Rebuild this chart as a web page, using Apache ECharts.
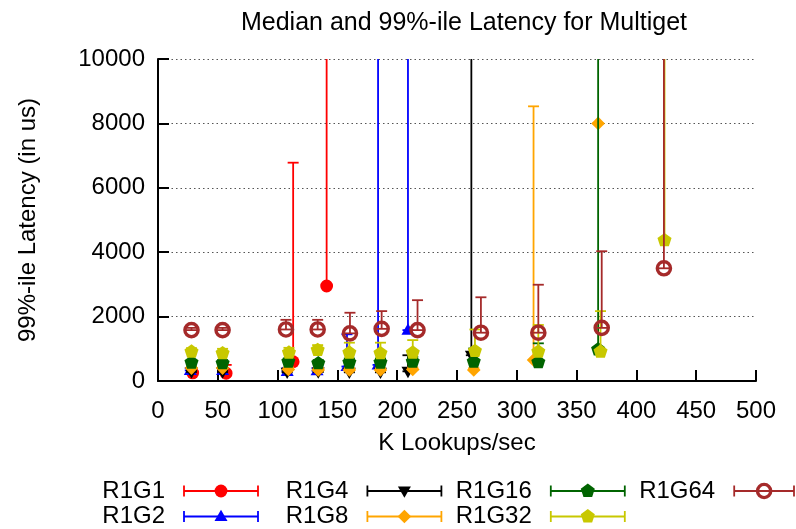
<!DOCTYPE html>
<html>
<head>
<meta charset="utf-8">
<title>Median and 99%-ile Latency for Multiget</title>
<script src="https://cdn.jsdelivr.net/npm/echarts@6/dist/echarts.min.js"></script>
<style>
  html, body { margin: 0; padding: 0; background: #ffffff; }
  #chart { width: 796px; height: 529px; }
</style>
</head>
<body>
<div id="chart"></div>
<script>
// Throughput (K lookups/sec), median latency and 99th-percentile latency (us)
// for each multiget configuration. 99th values above the axis range are
// drawn clipped at the top of the plot.
const seriesNames = ['R1G1', 'R1G2', 'R1G4', 'R1G8', 'R1G16', 'R1G32', 'R1G64'];

const r1g1X      = [29, 57, 113, 141];
const r1g1Median = [250, 240, 600, 2950];
const r1g1P99    = [300, 500, 6780, 15000];

const r1g2X      = [27, 54, 108, 133, 158, 184, 209];
const r1g2Median = [330, 330, 300, 320, 450, 500, 1580];
const r1g2P99    = [400, 400, 400, 400, 1450, 15000, 15000];

const r1g4X      = [28, 54, 108, 134, 160, 186, 209, 262];
const r1g4Median = [280, 280, 270, 280, 270, 270, 300, 800];
const r1g4P99    = [330, 330, 330, 330, 330, 330, 800, 15000];

const r1g8X      = [28, 54, 109, 134, 160, 186, 213, 264, 314, 368];
const r1g8Median = [400, 400, 360, 340, 340, 340, 360, 340, 650, 8000];
const r1g8P99    = [450, 450, 420, 400, 400, 400, 420, 400, 8530, 8000];

const r1g16X      = [28, 54, 109, 134, 160, 186, 213, 264, 318, 368];
const r1g16Median = [570, 550, 600, 550, 570, 570, 600, 600, 580, 980];
const r1g16P99    = [650, 650, 700, 650, 700, 700, 750, 1010, 1170, 15000];

const r1g32X      = [28, 54, 109.5, 133.5, 160, 186, 213, 265, 318, 370, 423.5];
const r1g32Median = [910, 860, 880, 960, 880, 860, 880, 930, 910, 910, 4370];
const r1g32P99    = [1020, 1000, 1030, 1115, 1190, 1190, 1270, 1600, 1740, 2170, 15000];

const r1g64X      = [28, 54, 107, 133.5, 160.5, 187, 217, 270, 318, 371, 423];
const r1g64Median = [1580, 1580, 1600, 1600, 1480, 1620, 1580, 1500, 1500, 1650, 3500];
const r1g64P99    = [1650, 1650, 1900, 1900, 2120, 2170, 2510, 2600, 2990, 4030, 15000];

const xTicks = [0, 50, 100, 150, 200, 250, 300, 350, 400, 450, 500];
const yTicks = [0, 2000, 4000, 6000, 8000, 10000];

const seriesX      = [r1g1X, r1g2X, r1g4X, r1g8X, r1g16X, r1g32X, r1g64X];
const seriesMedian = [r1g1Median, r1g2Median, r1g4Median, r1g8Median, r1g16Median, r1g32Median, r1g64Median];
const seriesP99    = [r1g1P99, r1g2P99, r1g4P99, r1g8P99, r1g16P99, r1g32P99, r1g64P99];

const colors  = ['#ff0000', '#0000ff', '#000000', '#ffa500', '#006400', '#c8c800', '#a52a2a'];
const markers = ['circle', 'triangle', 'downTriangle', 'diamond', 'pentagon', 'pentagon', 'ring'];

const FONT = '"Liberation Sans", Arial, Helvetica, sans-serif';
const FS = 24;

// Point symbol drawn centred on (cx, cy)
function markerShape(kind, cx, cy, color) {
  switch (kind) {
    case 'circle':
      return { type: 'circle', shape: { cx: cx, cy: cy, r: 6.4 }, style: { fill: color } };
    case 'triangle':
      return { type: 'polygon', shape: { points: [[cx, cy - 6.8], [cx + 6.5, cy + 4.6], [cx - 6.5, cy + 4.6]] }, style: { fill: color } };
    case 'downTriangle':
      return { type: 'polygon', shape: { points: [[cx, cy + 6.8], [cx + 6.5, cy - 4.6], [cx - 6.5, cy - 4.6]] }, style: { fill: color } };
    case 'diamond':
      return { type: 'polygon', shape: { points: [[cx, cy - 6.8], [cx + 6.8, cy], [cx, cy + 6.8], [cx - 6.8, cy]] }, style: { fill: color } };
    case 'pentagon': {
      const pts = [];
      for (let k = 0; k < 5; k++) {
        const a = -Math.PI / 2 + k * 2 * Math.PI / 5;
        pts.push([cx + 7.4 * Math.cos(a), cy + 7.4 * Math.sin(a)]);
      }
      return { type: 'polygon', shape: { points: pts }, style: { fill: color } };
    }
    case 'ring':
      return { type: 'circle', shape: { cx: cx, cy: cy, r: 6.6 }, style: { fill: 'none', stroke: color, lineWidth: 3.4 } };
  }
}

// Error bar from the median up to the 99th percentile, capped at both ends,
// with the point symbol at the median.
function makeRenderItem(color, marker) {
  return function (params, api) {
    const base = api.coord([api.value(0), api.value(1)]);
    const top = api.coord([api.value(0), api.value(2)]);
    const hw = 5.5;
    const ls = { stroke: color, lineWidth: 1.8 };
    return {
      type: 'group',
      children: [
        { type: 'line', shape: { x1: base[0], y1: base[1], x2: top[0], y2: top[1] }, style: ls },
        { type: 'line', shape: { x1: top[0] - hw, y1: top[1], x2: top[0] + hw, y2: top[1] }, style: ls },
        { type: 'line', shape: { x1: base[0] - hw, y1: base[1], x2: base[0] + hw, y2: base[1] }, style: ls },
        markerShape(marker, base[0], base[1], color)
      ]
    };
  };
}

const series = seriesNames.map(function (name, i) {
  const rows = seriesX[i].map(function (x, j) { return [x, seriesMedian[i][j], seriesP99[i][j]]; });
  return {
    name: name,
    type: 'custom',
    clip: true,
    data: rows,
    encode: { x: 0, y: 1 },
    renderItem: makeRenderItem(colors[i], markers[i])
  };
});

// Key below the plot: label, then a sample error bar with its symbol
const legendElements = [];
seriesNames.forEach(function (name, i) {
  const col = Math.floor(i / 2);
  const row = i % 2;
  const textRight = 165 + col * 183.4;
  const cy = 491 + row * 25.5;
  const x1 = textRight + 19;
  const x2 = Math.min(textRight + 93, 794);
  const mid = (x1 + x2) / 2;
  const ls = { stroke: colors[i], lineWidth: 1.8 };
  legendElements.push({
    type: 'text', x: textRight, y: cy,
    style: { text: name, fill: '#000', font: FS + 'px ' + FONT, textAlign: 'right', textVerticalAlign: 'middle' }
  });
  legendElements.push({ type: 'line', shape: { x1: x1, y1: cy, x2: x2, y2: cy }, style: ls });
  legendElements.push({ type: 'line', shape: { x1: x1, y1: cy - 5.5, x2: x1, y2: cy + 5.5 }, style: ls });
  legendElements.push({ type: 'line', shape: { x1: x2, y1: cy - 5.5, x2: x2, y2: cy + 5.5 }, style: ls });
  legendElements.push(markerShape(markers[i], mid, cy, colors[i]));
});

const chart = echarts.init(document.getElementById('chart'), null, { renderer: 'canvas' });
chart.setOption({
  animation: false,
  backgroundColor: '#ffffff',
  textStyle: { fontFamily: FONT },
  title: {
    text: 'Median and 99%-ile Latency for Multiget',
    left: 459, top: 6, textAlign: 'center',
    textStyle: { fontFamily: FONT, fontSize: 25, fontWeight: 'normal', color: '#000' }
  },
  grid: { left: 158, right: 40, top: 59, bottom: 148, containLabel: false },
  xAxis: {
    type: 'value', min: xTicks[0], max: xTicks[xTicks.length - 1], interval: xTicks[1] - xTicks[0],
    name: 'K Lookups/sec', nameLocation: 'middle', nameGap: 50,
    nameTextStyle: { fontFamily: FONT, fontSize: FS, color: '#000' },
    axisLine: { show: true, onZero: false, lineStyle: { color: '#000', width: 2 } },
    axisTick: { show: true, inside: true, length: 11, lineStyle: { color: '#000', width: 2 } },
    axisLabel: { fontFamily: FONT, fontSize: FS, color: '#000', margin: 18 },
    splitLine: { show: false }
  },
  yAxis: {
    type: 'value', min: yTicks[0], max: yTicks[yTicks.length - 1], interval: yTicks[1] - yTicks[0],
    name: '99%-ile Latency (in us)', nameLocation: 'middle', nameGap: 118,
    nameTextStyle: { fontFamily: FONT, fontSize: FS, color: '#000' },
    axisLine: { show: true, lineStyle: { color: '#000', width: 2 } },
    axisTick: { show: true, inside: true, length: 11, lineStyle: { color: '#000', width: 2 } },
    axisLabel: { fontFamily: FONT, fontSize: FS, color: '#000', margin: 13, formatter: function (v) { return String(v); } },
    splitLine: { show: true, lineStyle: { color: '#555', width: 1, type: [1.5, 3] } }
  },
  graphic: legendElements,
  series: series
});
</script>
</body>
</html>
